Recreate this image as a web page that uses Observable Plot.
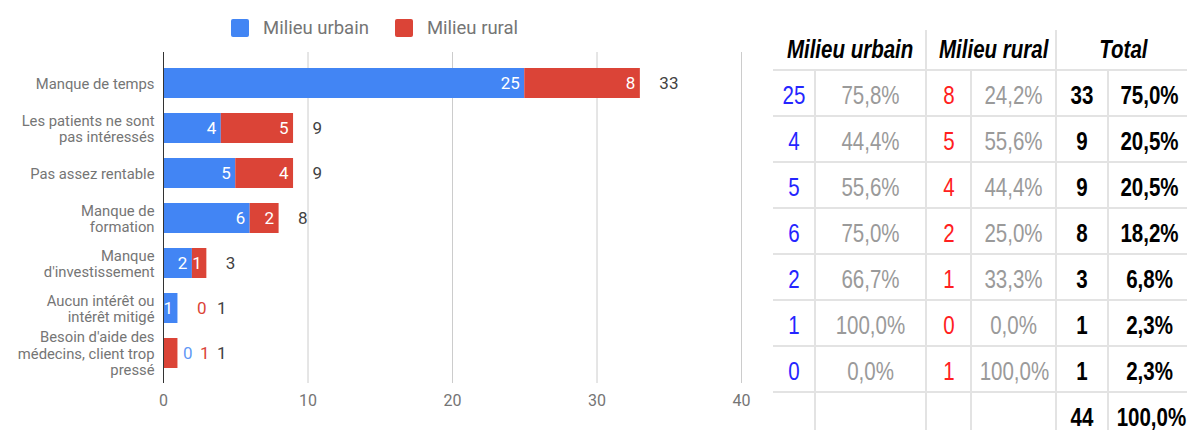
<!DOCTYPE html>
<html>
<head>
<meta charset="utf-8">
<script src="https://cdn.jsdelivr.net/npm/d3@7"></script>
<script src="https://cdn.jsdelivr.net/npm/@observablehq/plot@0.6"></script>
<style>
html, body { margin: 0; padding: 0; background: #fff; }
#root { position: relative; width: 1187px; height: 430px; overflow: hidden; font-family: Roboto, sans-serif; }
#chart { position: absolute; left: 0; top: 0; }
#legend { position: absolute; left: 231px; top: 19px; height: 18px; display: flex; align-items: center; font-family: Roboto, sans-serif; font-size: 18.5px; color: #757575; }
#legend .item { display: flex; align-items: center; margin-right: 26px; }
#legend .sw { width: 18px; height: 18px; border-radius: 2px; margin-right: 14px; }
#table { position: absolute; left: 773px; top: 30px; border-collapse: collapse; table-layout: fixed; }
#table th, #table td { padding: 0; text-align: center; white-space: nowrap; overflow: visible; }
#table th { height: 39px; font-size: 25px; font-weight: bold; font-style: italic; color: #000; border-bottom: 2px solid #e3e3e3; }
#table th.sep, #table td.sep { border-left: 2px solid #e3e3e3; }
#table td { height: 40px; font-size: 25px; border-bottom: 2px solid #e3e3e3; padding-top: 4px; }
#table .cu { color: #2525ff; }
#table .cr { color: #ff2020; }
#table .pc { color: #9a9a9a; }
#table .tt { color: #000; font-weight: bold; }
.sx { display: inline-block; transform-origin: 50% 50%; }
</style>
</head>
<body>
<div id="root">
  <div id="chart"></div>
  <div id="legend"></div>
  <table id="table"></table>
</div>
<script>
// ---- data ----
const categories = [
  "Manque de temps",
  "Les patients ne sont pas intéressés",
  "Pas assez rentable",
  "Manque de formation",
  "Manque d'investissement",
  "Aucun intérêt ou intérêt mitigé",
  "Besoin d'aide des médecins, client trop pressé"
];
const categoryLabels = [
  "Manque de temps",
  "Les patients ne sont\npas intéressés",
  "Pas assez rentable",
  "Manque de\nformation",
  "Manque\nd'investissement",
  "Aucun intérêt ou\nintérêt mitigé",
  "Besoin d'aide des\nmédecins, client trop\npressé"
];
const series = ["Milieu urbain", "Milieu rural"];
const urbain = [25, 4, 5, 6, 2, 1, 0];
const rural = [8, 5, 4, 2, 1, 0, 1];
const totals = [33, 9, 9, 8, 3, 1, 1];
const respondents = 44;
const xTicks = [0, 10, 20, 30, 40];
const colors = ["#4285F4", "#DB4437"];

// ---- chart ----
const rows = categories.flatMap((c, i) => [
  {cat: c, series: series[0], value: urbain[i], total: totals[i]},
  {cat: c, series: series[1], value: rural[i], total: totals[i]}
]);
const totalRows = categories.map((c, i) => ({cat: c, total: totals[i], hasZero: urbain[i] === 0 || rural[i] === 0}));
const isOutsideRural = d => d.series === series[1] && d.value > 0 && d.value === d.total;

const chart = Plot.plot({
  width: 760,
  height: 430,
  marginTop: 52,
  marginBottom: 47,
  marginLeft: 163,
  marginRight: 19,
  x: {domain: [0, 40]},
  y: {domain: categories, paddingInner: 0.336, paddingOuter: 0.33},
  color: {domain: series, range: colors},
  style: {fontFamily: "Roboto, sans-serif", background: "transparent", overflow: "visible"},
  marks: [
    Plot.ruleX(xTicks.slice(1), {stroke: "#cccccc", strokeWidth: 1}),
    Plot.barX(rows, {x: "value", y: "cat", fill: "series"}),
    Plot.ruleX([0], {stroke: "#333333"}),
    Plot.text(rows, Plot.stackX2({x: "value", y: "cat", z: "series", filter: d => d.value > 0 && !isOutsideRural(d), text: "value", textAnchor: "end", dx: -5, fill: "white", fontSize: 17})),
    Plot.text(rows.filter(d => d.value === 0 && d.series === series[0]), {x: "total", y: "cat", text: "value", textAnchor: "start", dx: 5, fill: colors[0], fillOpacity: 0.85, fontSize: 17}),
    Plot.text(rows.filter(d => d.value === 0 && d.series === series[1]), {x: "total", y: "cat", text: "value", textAnchor: "start", dx: 19, fill: colors[1], fontSize: 17}),
    Plot.text(rows.filter(isOutsideRural), {x: "total", y: "cat", text: "value", textAnchor: "start", dx: 22, fill: colors[1], fontSize: 17}),
    Plot.text(totalRows.filter(d => !d.hasZero), {x: "total", y: "cat", text: "total", textAnchor: "start", dx: 19, fill: "#424242", fontSize: 17}),
    Plot.text(totalRows.filter(d => d.hasZero), {x: "total", y: "cat", text: "total", textAnchor: "start", dx: 39, fill: "#424242", fontSize: 17}),
    Plot.axisX({ticks: xTicks, tickSize: 0, tickPadding: 11, fontSize: 16, color: "#757575", label: null}),
    Plot.axisY({tickSize: 0, tickPadding: 9, tickFormat: c => categoryLabels[categories.indexOf(c)], fontSize: 14.8, lineHeight: 1.1, color: "#757575", label: null})
  ]
});
document.getElementById("chart").appendChild(chart);

// ---- legend ----
const legend = d3.select("#legend");
series.forEach((s, i) => {
  const it = legend.append("div").attr("class", "item");
  it.append("div").attr("class", "sw").style("background", colors[i]);
  it.append("span").text(s);
});

// ---- table ----
const ctx = document.createElement("canvas").getContext("2d");
function w(font) { ctx.font = font; return ctx.measureText("Milieu urbain 75,8%").width; }
let tableFont = null;
for (const f of ["Liberation Sans Narrow", "Arial Narrow"]) {
  if (w(`25px "${f}", monospace`) !== w("25px monospace")) { tableFont = f; break; }
}
const needScale = !tableFont;
d3.select("#table").style("font-family", tableFont ? `"${tableFont}", sans-serif` : `"Liberation Sans", Arial, sans-serif`);

const pct = v => (v * 100).toFixed(1).replace(".", ",") + "%";
const colWidths = [42, 111, 45, 85, 52, 82];
const tbl = d3.select("#table");
const cg = tbl.append("colgroup");
colWidths.forEach(cw => cg.append("col").style("width", cw + "px"));
tbl.style("width", d3.sum(colWidths) + "px");

function fill(sel, text) {
  if (needScale) sel.append("span").attr("class", "sx").style("transform", "scaleX(0.82)").text(text);
  else sel.text(text);
}
const hr = tbl.append("tr");
["Milieu urbain", "Milieu rural", "Total"].forEach((h, i) => {
  const th = hr.append("th").attr("colspan", 2).attr("class", i > 0 ? "sep" : null);
  fill(th, h);
});
const bodyRows = categories.map((c, i) => [
  {t: String(urbain[i]), c: "cu"},
  {t: pct(urbain[i] / totals[i]), c: "pc"},
  {t: String(rural[i]), c: "cr"},
  {t: pct(rural[i] / totals[i]), c: "pc"},
  {t: String(totals[i]), c: "tt"},
  {t: pct(totals[i] / respondents), c: "tt"}
]);
bodyRows.push([
  {t: "", c: ""}, {t: "", c: ""}, {t: "", c: ""}, {t: "", c: ""},
  {t: String(respondents), c: "tt"},
  {t: pct(1), c: "tt"}
]);
bodyRows.forEach(r => {
  const tr = tbl.append("tr");
  r.forEach((cell, j) => {
    const td = tr.append("td").attr("class", (cell.c + (j > 0 ? " sep" : "")).trim());
    fill(td, cell.t);
  });
});
</script>
</body>
</html>
